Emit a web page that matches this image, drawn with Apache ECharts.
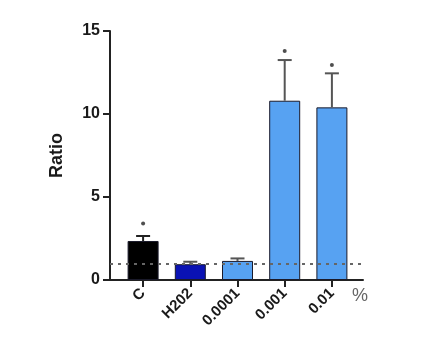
<!DOCTYPE html>
<html><head><meta charset="utf-8">
<script src="https://cdn.jsdelivr.net/npm/echarts@6/dist/echarts.min.js"></script>
<style>html,body{margin:0;padding:0;background:#fff}#c{width:437px;height:356px}</style>
</head><body><div id="c"></div>
<script>
const categories = ['C', 'H202', '0.0001', '0.001', '0.01'];
const ratioMeans = [2.35, 0.95, 1.15, 10.8, 10.4];
const errorTops = [2.65, 1.1, 1.3, 13.25, 12.45];
const starValues = [3.4, null, null, 13.8, 12.95];
const barColors = ['#000000', '#0a12b4', '#57a2f2', '#57a2f2', '#57a2f2'];
const baselineValue = 1;
const yMin = 0, yMax = 15, yStep = 5;

const font = 'Liberation Sans, Arial, sans-serif';
const chart = echarts.init(document.getElementById('c'), null, {renderer: 'canvas'});

chart.setOption({
  animation: false,
  backgroundColor: '#fff',
  grid: [
    {left: 110, top: 31, width: 253, height: 249},
    {left: 119.5, top: 31, width: 236, height: 249}
  ],
  xAxis: [
    {type: 'value', gridIndex: 0, min: 0, max: 1,
     axisLine: {show: true, lineStyle: {color: '#222', width: 2}},
     axisTick: {show: false}, axisLabel: {show: false}, splitLine: {show: false},
     name: '%', nameLocation: 'end', nameGap: -11,
     nameTextStyle: {fontFamily: font, fontSize: 18, color: '#666', verticalAlign: 'top', align: 'left', padding: [7, 0, 0, 0]}},
    {type: 'category', gridIndex: 1, data: categories,
     axisLine: {show: false},
     axisTick: {show: true, alignWithLabel: true, length: 7, lineStyle: {color: '#222', width: 2}},
     axisLabel: {rotate: 45, margin: 11, fontFamily: font, fontWeight: 'bold', fontSize: 15, color: '#1a1a1a'}}
  ],
  yAxis: [
    {type: 'value', gridIndex: 0, min: yMin, max: yMax, interval: yStep,
     axisLine: {show: true, lineStyle: {color: '#222', width: 2}},
     axisTick: {show: true, length: 7, lineStyle: {color: '#222', width: 2}},
     axisLabel: {margin: 10, fontFamily: font, fontWeight: 'bold', fontSize: 16, color: '#1a1a1a'},
     splitLine: {show: false},
     name: 'Ratio', nameLocation: 'middle', nameGap: 44, nameRotate: 90,
     nameTextStyle: {fontFamily: font, fontWeight: 'bold', fontSize: 18, color: '#1a1a1a'}},
    {type: 'value', gridIndex: 1, min: yMin, max: yMax, interval: yStep, show: false}
  ],
  series: [
    {type: 'line', xAxisIndex: 0, yAxisIndex: 0, data: [[0, baselineValue]], symbol: 'none', z: 1,
     lineStyle: {opacity: 0},
     markLine: {silent: true, symbol: 'none', label: {show: false},
       lineStyle: {type: [3, 5], color: '#666', width: 2},
       data: [{yAxis: baselineValue}]}},
    {type: 'bar', xAxisIndex: 1, yAxisIndex: 1, barWidth: 31, z: 3,
     data: ratioMeans.map((v, i) => ({value: v, itemStyle: {color: barColors[i], borderColor: '#1a1a2a', borderWidth: 1}}))},
    {type: 'custom', xAxisIndex: 1, yAxisIndex: 1, z: 4,
     data: ratioMeans.map((v, i) => [i, v, errorTops[i]]),
     renderItem: function (params, api) {
       const base = api.coord([api.value(0), api.value(1)]);
       const top = api.coord([api.value(0), api.value(2)]);
       const half = 7;
       const col = params.dataIndex === 0 ? '#222' : '#555';
       return {type: 'group', children: [
         {type: 'line', shape: {x1: base[0], y1: base[1], x2: top[0], y2: top[1]}, style: {stroke: col, lineWidth: 2}},
         {type: 'line', shape: {x1: top[0] - half, y1: top[1], x2: top[0] + half, y2: top[1]}, style: {stroke: col, lineWidth: 2}}
       ]};
     }},
    {type: 'scatter', xAxisIndex: 1, yAxisIndex: 1, z: 5, symbol: 'circle', symbolSize: 4,
     itemStyle: {color: '#222'},
     data: starValues.map((v, i) => v == null ? null : [i, v]).filter(d => d)}
  ]
});
</script></body></html>
